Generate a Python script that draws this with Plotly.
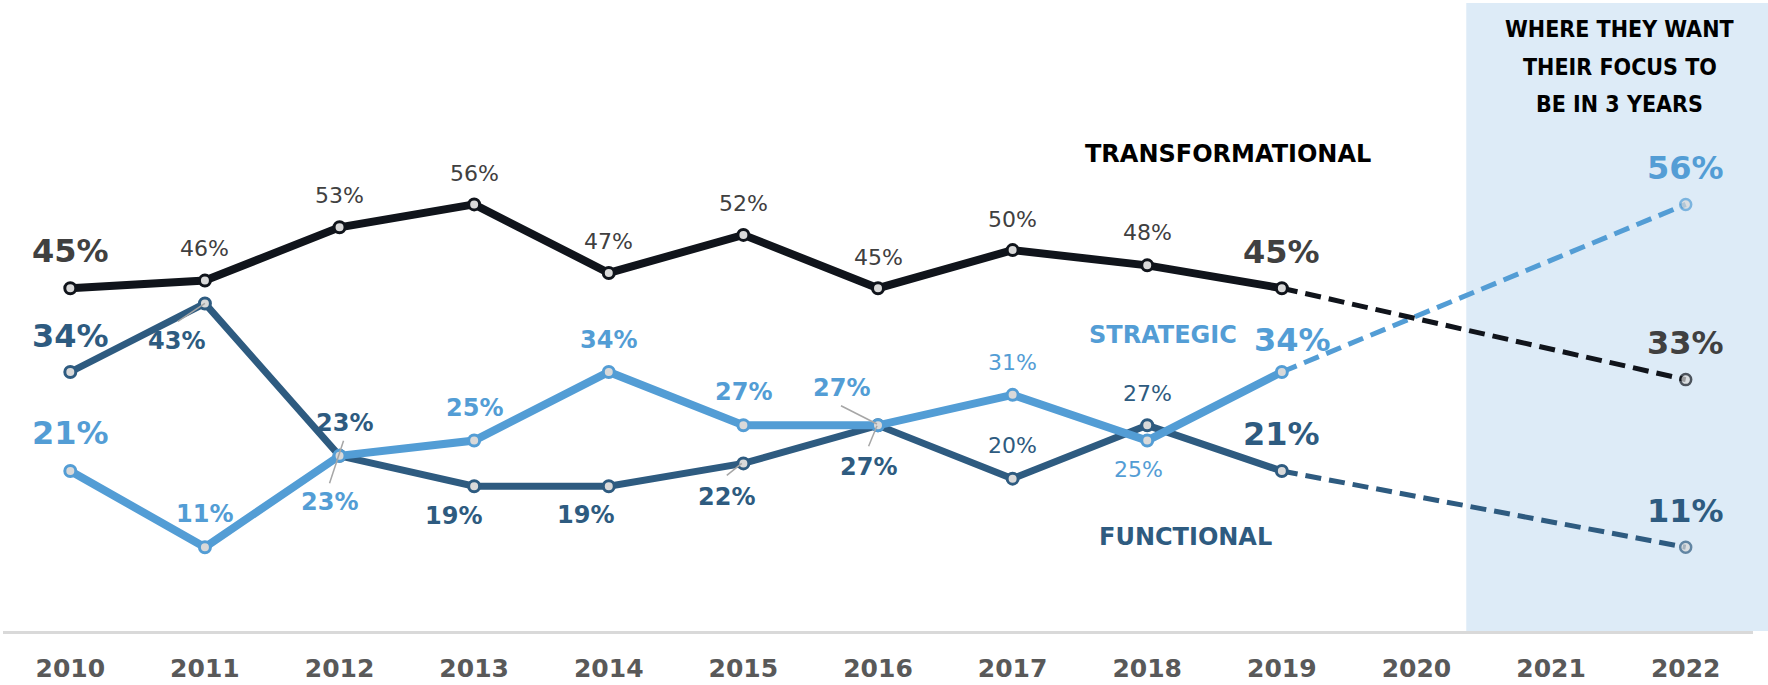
import plotly.graph_objects as go

# ---------------- data ----------------
years = [2010, 2011, 2012, 2013, 2014, 2015, 2016, 2017, 2018, 2019]
target_year = 2022
tick_years = list(range(2010, 2023))
tick_labels = [str(y) for y in tick_years]

transformational = [45, 46, 53, 56, 47, 52, 45, 50, 48, 45]
strategic = [21, 11, 23, 25, 34, 27, 27, 31, 25, 34]
functional = [34, 43, 23, 19, 19, 22, 27, 20, 27, 21]
transformational_target = 33
strategic_target = 56
functional_target = 11

series_names = ["TRANSFORMATIONAL", "STRATEGIC", "FUNCTIONAL"]
heading_lines = ["WHERE THEY WANT", "THEIR FOCUS TO", "BE IN 3 YEARS"]

# ---------------- styles ----------------
W, H = 1768, 685
MARGIN = dict(l=3, r=15, t=3, b=54)
XR = [2009.5, 2022.5]
YR = [0, 82.44]
SHADE_START = 2020.37
TEXT_DY = 0.5  # global vertical nudge for text boxes

C_T = "#10141b"
C_T_LBL = "#404040"
C_S = "#539dd5"
C_F = "#2e5b80"
MARKER_FILL = "#d9d9d9"
FONT = "DejaVu Sans, Verdana, sans-serif"
HEAD_FONT = "Liberation Sans Narrow, DejaVu Sans Condensed, Roboto Condensed, Roboto, sans-serif"

FONTS = {
    "big": dict(size=32, weight="bold"),
    "b": dict(size=24, weight="bold"),
    "n": dict(size=22, weight="normal"),
}

# label offsets (px, y up) and size kind, per point, then target
trans_lbl = [(0, 36.5, "big"), (0, 32, "n"), (0, 31, "n"), (0, 30.5, "n"), (0, 31, "n"),
             (0, 30.7, "n"), (0, 30.7, "n"), (0, 30.5, "n"), (0, 32.4, "n"), (0, 35.7, "big")]
trans_tlbl = (0, 36.5, "big")
func_lbl = [(0, 36, "big"), (-28, -38, "b"), (4.5, 32.5, "b"), (-20.5, -30, "b"), (-23.7, -29.7, "b"),
            (-16.7, -34, "b"), (-9.3, -42.3, "b"), (0, 32.7, "n"), (0, 31.7, "n"), (0, 37, "big")]
func_tlbl = (0, 36, "big")
strat_lbl = [(0, 37.7, "big"), (0, 33, "b"), (-10, -47, "b"), (0, 32, "b"), (0, 31.3, "b"),
             (0, 33, "b"), (-37, 36.4, "b"), (0, 32, "n"), (-9, -29.3, "n"), (10.7, 31.3, "big")]
strat_tlbl = (0, 36, "big")

series = [
    # name, values, target, line colour, label colour, width, labels, target label
    ("FUNCTIONAL", functional, functional_target, C_F, C_F, 7, func_lbl, func_tlbl),
    ("STRATEGIC", strategic, strategic_target, C_S, C_S, 8, strat_lbl, strat_tlbl),
    ("TRANSFORMATIONAL", transformational, transformational_target, C_T, C_T_LBL, 8, trans_lbl, trans_tlbl),
]

fig = go.Figure()

# dashed projections first
for name, vals, tgt, col, lcol, w, lbl, tlbl in series:
    fig.add_trace(go.Scatter(
        x=[years[-1], target_year], y=[vals[-1], tgt],
        mode="lines+markers",
        line=dict(color=col, width=5, dash="16px,8px"),
        marker=dict(size=[0, 11], color=MARKER_FILL, line=dict(color=col, width=[0, 2.5])),
        hoverinfo="skip", showlegend=False,
    ))

# solid history lines
for name, vals, tgt, col, lcol, w, lbl, tlbl in series:
    fig.add_trace(go.Scatter(
        x=years, y=vals, mode="lines+markers",
        line=dict(color=col, width=w),
        marker=dict(size=11, color=MARKER_FILL, line=dict(color=col, width=3)),
        hoverinfo="skip", showlegend=False,
    ))

annotations = []
for name, vals, tgt, col, lcol, w, lbl, tlbl in series:
    pts = list(zip(years, vals, lbl)) + [(target_year, tgt, tlbl)]
    for x, v, (dx, dy, kind) in pts:
        f = FONTS[kind]
        annotations.append(dict(
            x=x, y=v, xref="x", yref="y", text=f"{v}%", showarrow=False,
            xanchor="center", yanchor="middle", xshift=dx, yshift=dy + TEXT_DY,
            font=dict(family=FONT, size=f["size"], weight=f["weight"], color=lcol),
        ))

# series names
name_pos = {"TRANSFORMATIONAL": (2018.603, 62.55, "#000000"),
            "STRATEGIC": (2018.116, 38.8, C_S),
            "FUNCTIONAL": (2018.285, 12.28, C_F)}
for nm in series_names:
    x, y, c = name_pos[nm]
    annotations.append(dict(x=x, y=y, xref="x", yref="y", text=nm, showarrow=False,
                            xanchor="center", yanchor="middle", yshift=TEXT_DY,
                            font=dict(family=FONT, size=24, weight="bold", color=c)))

# heading (one annotation per line for exact line pitch)
head_y = [78.97, 74.07, 69.18]
for txt, yy in zip(heading_lines, head_y):
    annotations.append(dict(x=2021.51, y=yy, xref="x", yref="y", text=txt, showarrow=False,
                            xanchor="center", yanchor="middle",
                            font=dict(family=HEAD_FONT, size=23, weight=900, color="#000000")))

shapes = []
plot_w = W - MARGIN["l"] - MARGIN["r"]
shapes.append(dict(type="rect", xref="paper", yref="paper",
                   x0=(SHADE_START - XR[0]) / (XR[1] - XR[0]), x1=1 + (MARGIN["r"] + 2) / plot_w,
                   y0=0, y1=1, fillcolor="#ddebf7", line=dict(width=0), layer="below"))

# leader lines (pixel offsets from their data point, y up)
vals_by = {"F": functional, "S": strategic}
leaders = [("F", 1, (0, 0, -27, -18)),
           ("S", 2, (4, 15, -10, -27.5)),
           ("F", 5, (-1.6, 0, -16.6, -12)),
           ("S", 6, (-1, 1.3, -37, 19.6)),
           ("F", 6, (-1, -0.4, -9.4, -21))]
for key, i, (x0, y0, x1, y1) in leaders:
    shapes.append(dict(type="line", xref="x", yref="y",
                       xsizemode="pixel", ysizemode="pixel",
                       xanchor=years[i], yanchor=vals_by[key][i],
                       x0=x0, y0=y0, x1=x1, y1=y1,
                       line=dict(color="#a6a6a6", width=1.5), layer="above"))

fig.update_layout(
    width=W, height=H, margin=MARGIN,
    paper_bgcolor="white", plot_bgcolor="rgba(0,0,0,0)",
    annotations=annotations, shapes=shapes,
    xaxis=dict(range=XR, tickvals=tick_years, ticktext=tick_labels,
               showgrid=False, zeroline=False, showline=True,
               linecolor="#d9d9d9", linewidth=3, automargin=False,
               ticks="outside", ticklen=13, tickcolor="rgba(0,0,0,0)",
               tickfont=dict(family=FONT, size=25, weight="bold", color="#595959"),
               fixedrange=True),
    yaxis=dict(range=YR, visible=False, showgrid=False, zeroline=False,
               automargin=False, fixedrange=True),
    showlegend=False,
)

fig.write_html("out.html", config={"displayModeBar": False},
               post_script="document.body.style.margin='0';document.body.style.overflow='hidden';")
